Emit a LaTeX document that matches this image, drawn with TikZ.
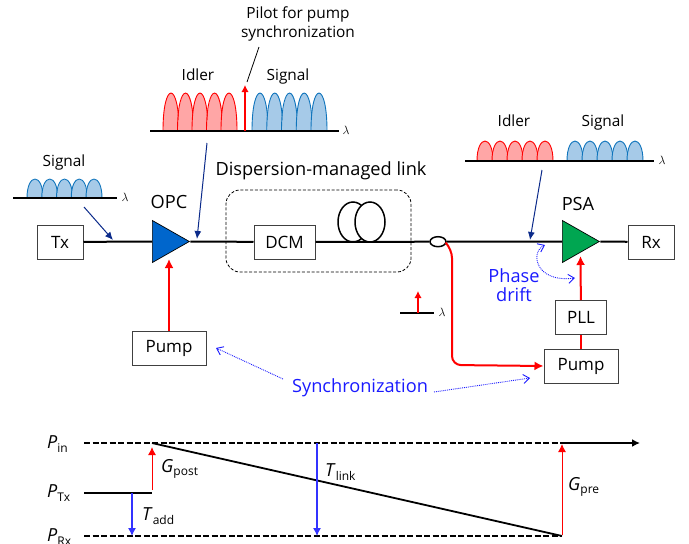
\documentclass[tikz,border=0pt]{standalone}
\usepackage{fontspec}
\setmainfont{Open Sans}
\usepackage{xcolor}
\usetikzlibrary{positioning,shapes.geometric,arrows.meta}
\definecolor{idlerFill}{HTML}{FFA6A6}
\definecolor{signalFill}{HTML}{A6CAE8}
\definecolor{signalLine}{HTML}{0F74BC}
\definecolor{opcBlue}{HTML}{0066CC}
\definecolor{psaGreen}{HTML}{00A651}
\definecolor{navyArrow}{HTML}{0B2A8A}
\definecolor{noteBlue}{HTML}{1A1AFF}
\definecolor{lossBlue}{HTML}{3333FF}
\tikzstyle{nodeBox}  =[draw=black!75,fill=white,line width=1pt,minimum height=34pt,inner sep=0pt,font=\fontsize{17}{19}\selectfont]
\tikzstyle{nodeAmp}  =[draw=black,isosceles triangle,isosceles triangle stretches,minimum width=42pt,minimum height=37pt,inner sep=0pt,anchor=lower side,line width=.7pt]
\tikzstyle{nodeText} =[inner sep=0pt,align=center,font=\fontsize{15.4}{19}\selectfont]
\tikzstyle{nodeHead} =[inner sep=0pt,font=\fontsize{18.2}{20}\selectfont]
\tikzstyle{nodeNote} =[inner sep=0pt,text=noteBlue,align=center,font=\fontsize{18.2}{19.5}\selectfont]
\tikzstyle{nodeLam}  =[inner sep=0pt,font=\fontsize{13}{15}\selectfont]
\tikzstyle{nodeLvl}  =[inner sep=0pt,anchor=west,font=\fontsize{18}{20}\selectfont]
\tikzstyle{fibre}    =[line width=2pt]
\tikzstyle{pumpLine} =[red,line width=2pt,-{Latex[length=9pt,width=9pt]}]
\tikzstyle{pointer}  =[navyArrow,line width=1pt,-{Latex[length=8pt,width=7pt]}]
\tikzstyle{dotBlue}  =[noteBlue,line width=.9pt,densely dotted,-{Straight Barb[length=6pt,width=9pt]}]
\tikzstyle{axisLine} =[line width=1.8pt]
\newcommand{\lobes}[5]{% first x, last x, baseline, top, colours
  \foreach \k in {0,...,4}{
    \pgfmathsetmacro{\lx}{#1+\k*(#2-#1-16)/4}
    \draw[#5,line width=.9pt] (\lx,#3) .. controls (\lx,#3-1.33*#3+1.33*#4) and (\lx+16,#3-1.33*#3+1.33*#4) .. (\lx+16,#3);
  }
}
\newcommand{\lvlname}[2]{\textit{#1}\raisebox{-.35ex}{\fontsize{12}{14}\selectfont #2}}

\begin{document}
\begin{tikzpicture}[x=1pt,y=-1pt,on grid]
      \useasboundingbox (0,0) rectangle (689,544);
      % spectra
      \lobes{27}{102}{198}{179}{draw=signalLine,fill=signalFill}
      \lobes{163}{237}{131}{93}{draw=red,fill=idlerFill}
      \lobes{252}{327}{131}{93}{draw=signalLine,fill=signalFill}
      \lobes{477}{553}{161}{141}{draw=red,fill=idlerFill}
      \lobes{567}{643}{161}{141}{draw=signalLine,fill=signalFill}
      \draw[axisLine] (13,198) -- (117,198);
      \draw[axisLine] (150,131) -- (339,131);
      \draw[axisLine] (465,161) -- (654,161);
      \draw[axisLine] (400,313) -- (434,313);
      \node[nodeLam] (lam1) at (125,197) {$\lambda$};
      \node[nodeLam] (lam2) at (346,130) {$\lambda$};
      \node[nodeLam] (lam3) at (662,160) {$\lambda$};
      \node[nodeLam] (lam4) at (442,312) {$\lambda$};
      \node[nodeText] (sig1) at (64,162.5) {Signal};
      \node[nodeText] (idl2) at (198,75) {Idler};
      \node[nodeText] (sig2) at (288,76.5) {Signal};
      \node[nodeText] (idl3) at (514,121) {Idler};
      \node[nodeText] (sig3) at (603,122.5) {Signal};
      \node[nodeText] (pilot) at (298,24) {Pilot for pump\\synchronization};
      % main line
      \node[nodeBox,minimum width=46pt] (tx) at (60,242) {Tx};
      \node[nodeAmp,fill=opcBlue] (opc) at (152,241.5) {};
      \node[nodeBox,minimum width=61pt] (dcm) [right = 224.5pt of tx] {DCM};
      \node[nodeBox,minimum width=46pt] (rx) [right = 591pt of tx] {Rx};
      \node[nodeAmp,fill=psaGreen] (psa) at (562,241.5) {};
      \node[nodeHead] (opcname) at (169,202) {OPC};
      \node[nodeHead] (psaname) at (578,204) {PSA};
      \node[nodeHead] (link) at (321,171) {Dispersion-managed link};
      \node[draw,dash pattern=on 3pt off 1.8pt,rounded corners=14pt,line width=.8pt,minimum width=185pt,minimum height=82pt] (linkbox) at (318.5,231) {};
      \node[draw,ellipse,line width=1.5pt,minimum width=16pt,minimum height=10pt,inner sep=0pt] (coupler) at (438,241.7) {};
      \draw[fibre] (tx) -- (opc.lower side);
      \draw[fibre] (opc.apex) -- (dcm);
      \draw[fibre] (dcm) -- (coupler);
      \draw[fibre] (coupler) -- (psa.lower side);
      \draw[fibre] (psa.apex) -- (rx);
      \node[draw,ellipse,line width=1.5pt,minimum width=30pt,minimum height=40pt,inner sep=0pt] (coil1) at (353,222) {};
      \node[draw,ellipse,fill=white,line width=1.5pt,minimum width=30pt,minimum height=40pt,inner sep=0pt] (coil2) at (370,222) {};
      % pumps
      \node[nodeBox,minimum width=74pt] (pump1) at (169,348) {Pump};
      \node[nodeBox,minimum width=74pt] (pump2) at (581,366) {Pump};
      \node[nodeBox,minimum width=51pt] (pll) [above = 48.5pt of pump2] {PLL};
      \coordinate (opcin) at (169,259);
      \coordinate (psain) at (580.5,256);
      \coordinate (tap) at (446,243);
      \draw[pumpLine] (pump1) -- (opcin);
      \draw[red,line width=2pt] (pump2) -- (pll);
      \draw[pumpLine] (pll) -- (psain);
      \draw[pumpLine,rounded corners=9pt] (tap) -- (452,249) -- (452,365) -- (pump2.west);
      % pilots
      \coordinate (pilotB) at (245,131);
      \coordinate (pilotT) at (245,85);
      \coordinate (smallB) at (418,313);
      \coordinate (smallT) at (418,291);
      \draw[red,line width=1.8pt,-{Latex[length=7pt,width=7.5pt]}] (pilotB) -- (pilotT);
      \draw[red,line width=1.5pt,-{Latex[length=7pt,width=7.5pt]}] (smallB) -- (smallT);
      \coordinate (leadA) at (259,47);
      \coordinate (leadB) at (247,82);
      \draw[line width=.8pt] (leadA) -- (leadB);
      % pointers
      \coordinate (p1a) at (84,207);
      \coordinate (p1b) at (113,240);
      \coordinate (p2a) at (207,143);
      \coordinate (p2b) at (197,239);
      \coordinate (p3a) at (542,170);
      \coordinate (p3b) at (530,240);
      \draw[pointer] (p1a) -- (p1b);
      \draw[pointer] (p2a) -- (p2b);
      \draw[pointer] (p3a) -- (p3b);
      % notes
      \node[nodeNote] (drift) at (514,285) {Phase\\drift};
      \node[nodeNote] (sync) at (360,388) {Synchronization};
      \coordinate (d1) at (545,245);
      \coordinate (d2) at (575,278);
      \draw[dotBlue,{Straight Barb[length=6pt,width=9pt]}-{Straight Barb[length=6pt,width=9pt]}] (d1) .. controls (530,252) and (535,283) .. (d2);
      \coordinate (s1) at (283,379);
      \coordinate (s2) at (216,348);
      \coordinate (s3) at (434,392);
      \coordinate (s4) at (530,378);
      \draw[dotBlue] (s1) -- (s2);
      \draw[dotBlue] (s3) -- (s4);
      % power map
      \coordinate (inL) at (84,443);
      \coordinate (inA) at (152,443);
      \coordinate (inB) at (562,443);
      \coordinate (inR) at (640,443);
      \coordinate (txL) at (84,493);
      \coordinate (txR) at (152,493);
      \coordinate (rxL) at (84,536);
      \coordinate (rxR) at (562,536);
      \draw[axisLine,dash pattern=on 6pt off 2.5pt] (inL) -- (inB);
      \draw[axisLine,dash pattern=on 6pt off 2.5pt] (rxL) -- (rxR);
      \draw[axisLine,-{Latex[length=8pt,width=8pt]}] (inB) -- (inR);
      \draw[axisLine] (txL) -- (txR);
      \draw[axisLine] (inA) -- (rxR);
      \coordinate (gpostB) at (152,490);
      \coordinate (gpostT) at (152,447);
      \coordinate (addT) at (132,493);
      \coordinate (addB) at (132,536);
      \coordinate (linkT) at (317,443);
      \coordinate (linkB) at (317,536);
      \coordinate (gpreB) at (562,535);
      \coordinate (gpreT) at (562,444);
      \draw[red,line width=1pt,-{Latex[length=8pt,width=8pt]}] (gpostB) -- (gpostT);
      \draw[red,line width=1pt,-{Latex[length=8pt,width=8pt]}] (gpreB) -- (gpreT);
      \draw[lossBlue,line width=1.1pt,-{Latex[length=8pt,width=8pt]}] (addT) -- (addB);
      \draw[lossBlue,line width=1.1pt,-{Latex[length=8pt,width=8pt]}] (linkT) -- (linkB);
      \node[nodeLvl] (pin) at (47,444) {\lvlname{P}{in}};
      \node[nodeLvl] (ptx) at (47,493) {\lvlname{P}{Tx}};
      \node[nodeLvl] (prx) at (47,537) {\lvlname{P}{Rx}};
      \node[nodeLvl] (gpost) at (161,469) {\lvlname{G}{post}};
      \node[nodeLvl] (tadd) at (142,516) {\lvlname{T}{add}};
      \node[nodeLvl] (tlink) at (325,472) {\lvlname{T}{link}};
      \node[nodeLvl] (gpre) at (568,487) {\lvlname{G}{pre}};
    \end{tikzpicture}
\end{document}
